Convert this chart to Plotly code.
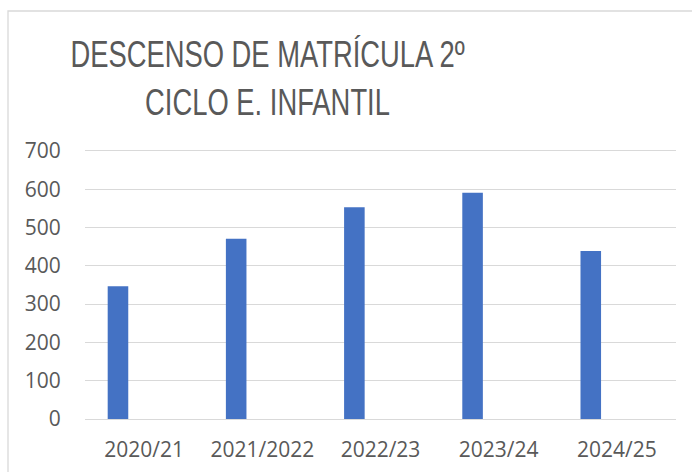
import plotly.graph_objects as go

categories = ["2020/21", "2021/2022", "2022/23", "2023/24", "2024/25"]
values = [347, 471, 553, 591, 439]
y_ticks = [0, 100, 200, 300, 400, 500, 600, 700]

W, H = 692, 472
ml, mr, mt, mb = 85, 16, 151, 53
pw = W - ml - mr
ph = H - mt - mb

def px_to_paper_x(px):
    return (px - ml) / pw

def px_to_paper_y(py):
    return (H - mb - py) / ph

fig = go.Figure()
fig.add_trace(go.Bar(
    x=categories, y=values,
    marker=dict(color="#4472C4", line=dict(width=0)),
    width=0.174, offset=-0.308,
    hoverinfo="x+y",
))

fig.update_layout(
    width=W, height=H,
    margin=dict(l=ml, r=mr, t=mt, b=mb),
    paper_bgcolor="white", plot_bgcolor="white",
    showlegend=False,
    font=dict(family="Open Sans", color="#595959", size=20),
    xaxis=dict(
        type="category", showgrid=False, zeroline=False, automargin=False,
        showline=True, linecolor="#D9D9D9", linewidth=1.3, mirror=True,
        ticks="outside", ticklen=12,
        tickcolor="rgba(0,0,0,0)",
        tickfont=dict(size=21, color="#595959", family="Open Sans"),
    ),
    yaxis=dict(
        range=[0, 700], tickvals=y_ticks, showgrid=True, automargin=False,
        gridcolor="#D9D9D9", gridwidth=1.3, zeroline=False,
        showline=False, ticks="outside", ticklen=19,
        tickcolor="rgba(0,0,0,0)",
        tickfont=dict(size=21, color="#595959", family="Open Sans"),
    ),
    shapes=[
        dict(type="rect", xref="paper", yref="paper",
             x0=px_to_paper_x(8), x1=px_to_paper_x(720),
             y0=px_to_paper_y(500), y1=px_to_paper_y(11),
             line=dict(color="#D9D9D9", width=1.3), fillcolor="rgba(0,0,0,0)",
             layer="below"),
    ],
    annotations=[
        dict(text="DESCENSO DE MATRÍCULA 2º<br>CICLO E. INFANTIL",
             xref="paper", yref="paper",
             x=px_to_paper_x(267), y=px_to_paper_y(32),
             xanchor="center", yanchor="top", showarrow=False,
             font=dict(family="Liberation Sans, Arial", size=37, color="#595959"),
             align="center"),
    ],
)

post = """
document.body.style.margin = '0';
document.body.style.overflow = 'hidden';
document.querySelectorAll('.annotation-text').forEach(function(t){
  t.style.transformBox = 'fill-box';
  t.style.transformOrigin = 'center';
  t.style.transform = 'scaleX(0.74)';
});
"""

fig.write_html("out.html", post_script=post, config={"displayModeBar": False})
